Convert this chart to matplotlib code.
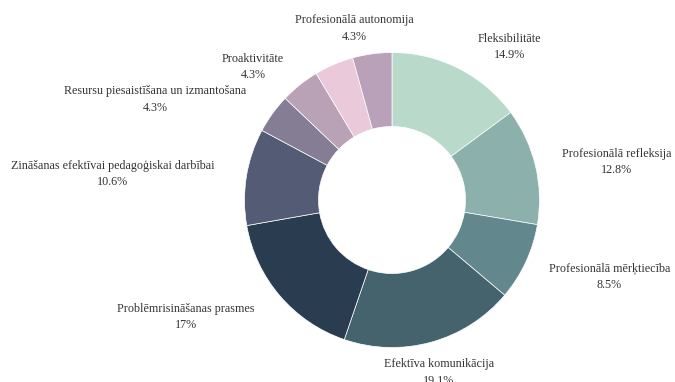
import numpy as np
import matplotlib
matplotlib.use("Agg")
import matplotlib.pyplot as plt

# Share of each competence, clockwise from 12 o'clock
categories = [
    "Fleksibilitāte",
    "Profesionālā refleksija",
    "Profesionālā mērķtiecība",
    "Efektīva komunikācija",
    "Problēmrisināšanas prasmes",
    "Zināšanas efektīvai pedagoģiskai darbībai",
    "Resursu piesaistīšana un izmantošana",
    "Proaktivitāte",
    None,  # label hidden (overlaps its neighbours)
    "Profesionālā autonomija",
]
shares = [14.9, 12.8, 8.5, 19.1, 17, 10.6, 4.3, 4.3, 4.3, 4.3]
colors = [
    "#b9dacb", "#8cb1ad", "#62878c", "#44636d", "#2a3c4f",
    "#545b74", "#857d94", "#b9a1b6", "#e9c9da", "#b9a2b9",
]
# small per-label shifts (px) after the radial placement, to spread crowded labels
label_nudge = [
    (22, -5), (-4, -3), (-1, -2), (-16, -2), (-17, -2),
    (-1, -2), (-17, -3), (-7, -5), (0, 0), (-5, -4),
]

W, H = 675, 382
CX, CY = 392, 182
R_OUT, RING = 147.5, 74

fig = plt.figure(figsize=(W / 100, H / 100), dpi=100)
ax = fig.add_axes([0, 0, 1, 1])

wedges, _ = ax.pie(
    shares, colors=colors, startangle=90, counterclock=False,
    center=(CX, CY), radius=R_OUT,
    wedgeprops=dict(width=RING, edgecolor="white", linewidth=0.5),
)
ax.set_aspect("auto")
ax.set_xlim(0, W)
ax.set_ylim(0, H)
ax.axis("off")

# outside labels: push each two-line block outward along the slice bisector
r_anchor, pad_x, half_h = 160, 20, 17
texts = []
for w, name, v, nd in zip(wedges, categories, shares, label_nudge):
    if name is None:
        continue
    t = ax.text(0, 0, f"{name}\n{v:g}%", ha="center", va="center",
                multialignment="center", linespacing=1.5,
                fontsize=8.7, family="Liberation Serif", color="#333333")
    texts.append((t, np.deg2rad((w.theta1 + w.theta2) / 2), nd))

fig.canvas.draw()
renderer = fig.canvas.get_renderer()
for t, phi, (nx, ny) in texts:
    bw = t.get_window_extent(renderer).width
    dx, dy = np.cos(phi), np.sin(phi)
    x = CX + dx * (r_anchor + bw / 2 + pad_x) + nx
    y = CY + dy * (r_anchor + half_h) + ny
    t.set_position((x, y))

fig.savefig("out.png", dpi=100)
